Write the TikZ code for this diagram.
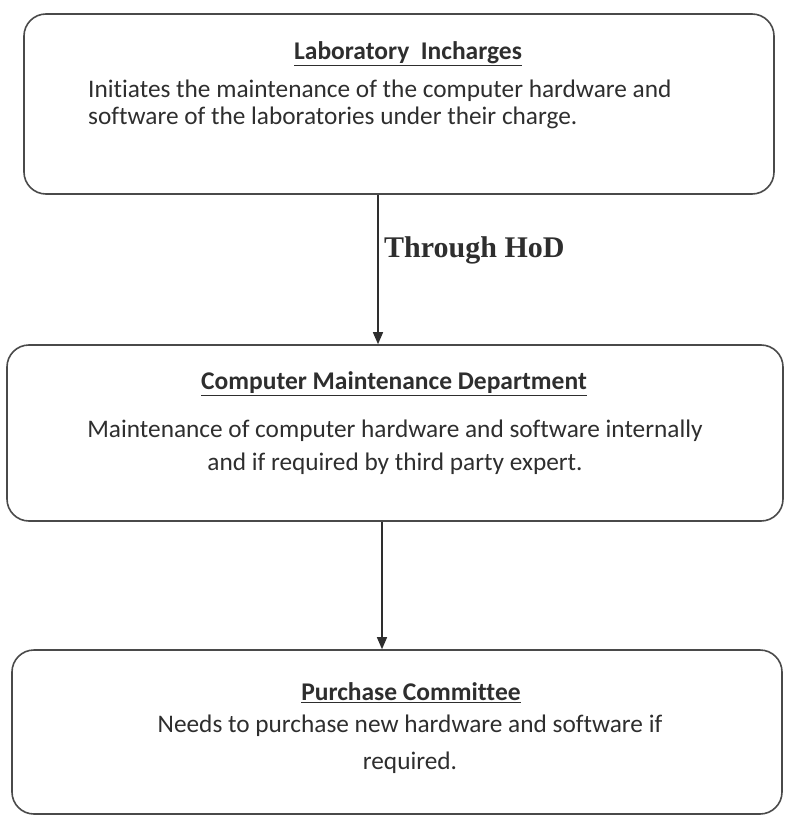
\documentclass[tikz,border=0pt]{standalone}
\usepackage{fontspec}
\setmainfont[Ligatures={NoCommon}]{Carlito}
\newfontfamily\timesfont{Liberation Serif}
\usetikzlibrary{arrows.meta}
\definecolor{ink}{HTML}{2E2E2E}
\definecolor{edge}{HTML}{4A4A4A}
\tikzset{
  flowbox/.style={draw=edge, line width=1.6pt, rounded corners=22pt, inner sep=0pt},
  boxtitle/.style={font=\fontsize{25.5}{30}\selectfont\bfseries, text=ink, inner sep=0pt},
  boxbody/.style={text=ink, inner sep=0pt},
  conn/.style={draw=ink, line width=1.4pt, -{Triangle[length=12pt,width=10pt]}},
}
\begin{document}
\begin{tikzpicture}[x=1pt,y=-1pt]
\useasboundingbox (0,0) rectangle (785,818);
% boxes
\node[flowbox, minimum width=750pt, minimum height=180pt] (b1) at (399,104) {};
\node[flowbox, minimum width=776pt, minimum height=176pt] (b2) at (395,433) {};
\node[flowbox, minimum width=770pt, minimum height=164pt] (b3) at (397,732) {};
% texts
\node[boxtitle] (t1) at (408,54) {\underline{Laboratory\ \ Incharges}};
\node[boxbody, anchor=west, align=left, font=\fontsize{25.3}{27}\selectfont] (d1) at (88,104)
  {Initiates the maintenance of the computer hardware and\\software of the laboratories under their charge.};
\node[boxtitle] (t2) at (394,384) {\underline{Computer Maintenance Department}};
\node[boxbody, align=center, font=\fontsize{25.3}{33}\selectfont] (d2) at (395,447)
  {Maintenance of computer hardware and software internally\\and if required by third party expert.};
\node[boxtitle] (t3) at (411,693) {\underline{Purchase Committee}};
\node[boxbody, align=center, font=\fontsize{25.3}{37}\selectfont] (d3) at (410,744)
  {Needs to purchase new hardware and software if\\required.};
% connectors
\coordinate (x1) at (378,0);
\coordinate (x2) at (382,0);
\draw[conn] (b1.south -| x1) -- (b2.north -| x1);
\draw[conn] (b2.south -| x2) -- (b3.north -| x2);
\node[anchor=west, inner sep=0pt, text=ink, font=\timesfont\fontsize{30}{33}\selectfont\bfseries] (lbl) at (384,250) {Through HoD};
\end{tikzpicture}
\end{document}
